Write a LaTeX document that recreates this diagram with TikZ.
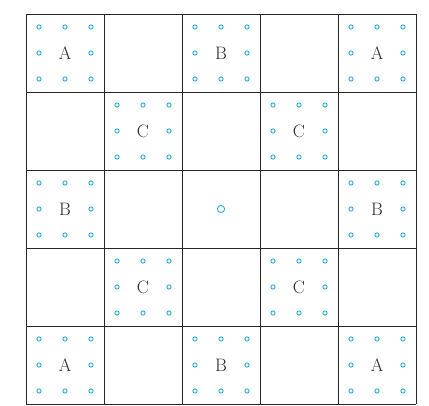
\documentclass[tikz,border=0pt]{standalone}
\definecolor{dotblue}{RGB}{40,170,215}
\tikzset{
  gridline/.style={line width=0.8pt, black!85},
  smalldot/.style={circle, draw=dotblue, line width=0.9pt, inner sep=0pt, minimum size=4.2pt},
  bigdot/.style={circle, draw=dotblue, line width=0.9pt, inner sep=0pt, minimum size=7.2pt},
  letter/.style={inner sep=0pt, font=\fontsize{18}{20}\selectfont, text=black!85}
}
\begin{document}
\begin{tikzpicture}[x=1pt,y=1pt]
\useasboundingbox (0,0) rectangle (429,405);
% grid: left 26, bottom 1, cell 78
\begin{scope}[shift={(26,1)}]
\draw[gridline] (0,0) grid[step=78] (390,390);
\end{scope}
% letter cells
\foreach \c/\r/\t in {0/0/A,2/0/B,4/0/A,1/1/C,3/1/C,0/2/B,4/2/B,1/3/C,3/3/C,0/4/A,2/4/B,4/4/A}{
  \pgfmathsetmacro{\cx}{26+78*\c+39}
  \pgfmathsetmacro{\cy}{391-78*\r-39}
  \node[letter] (L\c\r) at (\cx,\cy) {\t};
  \foreach \dx/\dy/\k in {-1/-1/a,0/-1/b,1/-1/c,-1/0/d,1/0/e,-1/1/f,0/1/g,1/1/h}{
    \node[smalldot] (D\c\r\k) at (\cx+26*\dx,\cy+26*\dy) {};
  }
}
\node[bigdot] (center) at (221,196) {};
\end{tikzpicture}
\end{document}
